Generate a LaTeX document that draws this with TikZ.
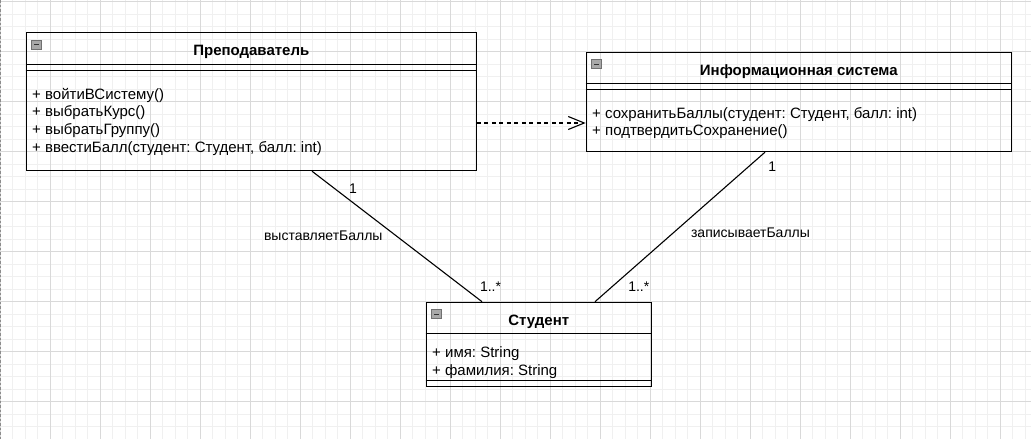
\documentclass[tikz,border=0pt]{standalone}
\usepackage{fontspec}
\setmainfont{Liberation Sans}
\usetikzlibrary{calc,arrows.meta}
\definecolor{gridminor}{HTML}{F0F0F0}
\definecolor{gridmajor}{HTML}{D9D9D9}
\definecolor{iconfill}{HTML}{A8A8A8}
\definecolor{iconline}{HTML}{707070}
\begin{document}
\frenchspacing
\begin{tikzpicture}[x=1pt,y=-1pt,
  umlbox/.style={draw=black, line width=1.2pt, anchor=north west, inner sep=0pt, minimum width=#1},
  sepline/.style={draw=black, line width=1pt},
  boxtitle/.style={font=\fontsize{15}{18}\selectfont\bfseries, inner sep=0pt, anchor=base},
  member/.style={font=\fontsize{15}{18}\selectfont, inner sep=0pt, anchor=base west},
  lbl/.style={font=\fontsize{14}{17}\selectfont, inner sep=0pt},
  assoc/.style={draw=black, line width=1.1pt},
  dep/.style={draw=black, line width=1.1pt, dash pattern=on 4pt off 3.5pt, -{Straight Barb[length=16pt,width=13pt,line width=1.1pt]}},
  iconbox/.style={fill=iconfill, draw=iconline, line width=0.8pt},
  iconminus/.style={draw=black!80, line width=1.3pt}
]
\useasboundingbox (0,0) rectangle (1031,439);
% grid
\foreach \i in {0,...,83} {\draw[gridminor, line width=0.8pt] (12.5*\i,0) -- (12.5*\i,439);}
\foreach \i in {0,...,35} {\draw[gridminor, line width=0.8pt] (0,1.7+12.5*\i) -- (1031,1.7+12.5*\i);}
\foreach \i in {0,...,20} {\draw[gridmajor, line width=0.9pt] (50*\i,0) -- (50*\i,439);}
\foreach \i in {0,...,8} {\draw[gridmajor, line width=0.9pt] (0,1.7+50*\i) -- (1031,1.7+50*\i);}
\draw[black!45, line width=1pt, dash pattern=on 2.5pt off 2pt] (0.6,0) -- (0.6,439);

% boxes
\node[umlbox=450pt, minimum height=138pt] (teacher) at (25.7,32) {};
\node[umlbox=425pt, minimum height=99.3pt] (info) at (585.7,51.7) {};
\node[umlbox=225pt, minimum height=84.3pt] (student) at (425.7,301.7) {};

% separators
\foreach \n/\d in {teacher/32.3, teacher/38, info/31.8, info/37.3, student/31.3, student/79} {
  \draw[sepline] ($(\n.north west)+(0,\d)$) -- ($(\n.north east)+(0,\d)$);
}

% icons
\foreach \n in {teacher, info, student} {
  \draw[iconbox] ($(\n.north west)+(6,8)$) rectangle ++(10,9);
  \draw[iconminus] ($(\n.north west)+(8.3,12.5)$) -- ++(5.4,0);
}

% titles
\node[boxtitle] (tT) at ($(teacher.north)+(0,23.7)$) {Преподаватель};
\node[boxtitle] (iT) at ($(info.north)+(0,23.7)$) {Информационная система};
\node[boxtitle] (sT) at ($(student.north)+(0,23.7)$) {Студент};

% members
\node[member] (t1) at ($(teacher.north west)+(6.3,67)$) {+ войтиВСистему()};
\node[member] (t2) at ($(teacher.north west)+(6.3,84.7)$) {+ выбратьКурс()};
\node[member] (t3) at ($(teacher.north west)+(6.3,102.4)$) {+ выбратьГруппу()};
\node[member] (t4) at ($(teacher.north west)+(6.3,120)$) {+ ввестиБалл(студент: Студент, балл: int)};
\node[member] (i1) at ($(info.north west)+(6.3,66.3)$) {+ сохранитьБаллы(студент: Студент, балл: int)};
\node[member] (i2) at ($(info.north west)+(6.3,84)$) {+ подтвердитьСохранение()};
\node[member] (s1) at ($(student.north west)+(6.3,56.1)$) {+ имя: String};
\node[member] (s2) at ($(student.north west)+(6.3,73.8)$) {+ фамилия: String};

% connector endpoints
\coordinate (ts1) at ($(teacher.south west)+(286.3,0)$);
\coordinate (ts2) at ($(student.north west)+(56.3,0)$);
\coordinate (is1) at ($(info.south west)+(179.3,0)$);
\coordinate (is2) at ($(student.north west)+(169.3,0)$);
\coordinate (d1) at ($(teacher.north east)+(0,91)$);
\coordinate (d2) at ($(info.north west)+(0,71.3)$);

\draw[assoc] (ts1) -- (ts2);
\draw[assoc] (is1) -- (is2);
\draw[dep] (d1) -- (d2);

% labels
\node[lbl, anchor=base] (l1) at (353,193.3) {1};
\node[lbl, anchor=base] (l2) at (323.3,240) {выставляетБаллы};
\node[lbl, anchor=base west] (l3) at (479.8,291.7) {1..*};
\node[lbl, anchor=base] (l4) at (772.3,171.7) {1};
\node[lbl, anchor=base] (l5) at (750.5,237.3) {записываетБаллы};
\node[lbl, anchor=base west] (l6) at (628.1,291.7) {1..*};
\end{tikzpicture}
\end{document}
